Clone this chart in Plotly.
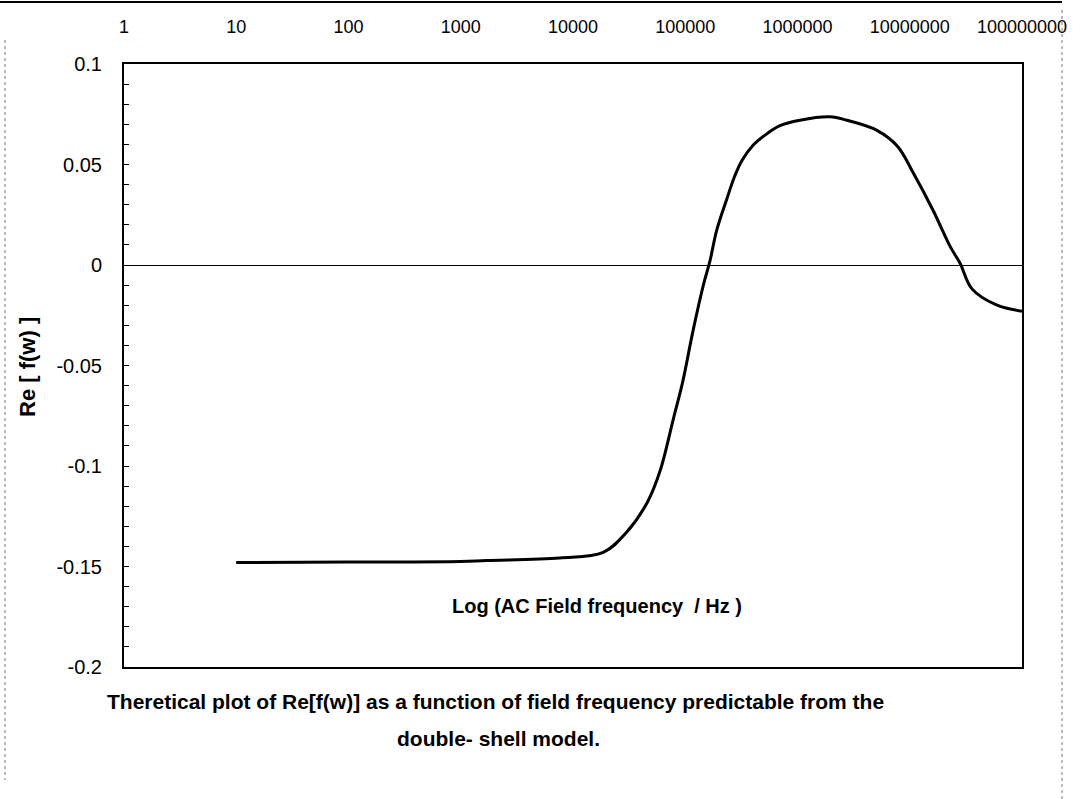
import plotly.graph_objects as go

# Data
freq_hz = [10, 100, 1000, 1.7e3, 7.6e3, 1.86e4, 3.0e4, 4.6e4, 6.0e4, 7.8e4, 9.5e4,
           1.17e5, 1.45e5, 1.66e5, 1.9e5, 2.35e5, 2.75e5, 3.2e5, 4.0e5, 5.4e5, 6.9e5, 1.05e6, 1.95e6,
           2.75e6, 5.1e6, 7.8e6, 1.07e7, 1.62e7, 2.3e7, 2.8e7, 3.6e7, 6.0e7, 1.0e8]
re_f = [-0.148, -0.1478, -0.1475, -0.147, -0.1458, -0.143, -0.133, -0.118, -0.102,
        -0.077, -0.058, -0.033, -0.010, 0.002, 0.017, 0.033, 0.044, 0.052, 0.0595, 0.0655, 0.0692, 0.072,
        0.0737, 0.072, 0.067, 0.059, 0.046, 0.027, 0.009, 0.001, -0.012, -0.020, -0.023]

x_tick_vals = [1, 10, 100, 1000, 10000, 100000, 1000000, 10000000, 100000000]
x_tick_text = ["1", "10", "100", "1000", "10000", "100000", "1000000", "10000000", "100000000"]
y_tick_vals = [0.1, 0.05, 0, -0.05, -0.1, -0.15, -0.2]
y_tick_text = ["0.1", "0.05", "0", "-0.05", "-0.1", "-0.15", "-0.2"]

x_label = "Log (AC Field frequency  / Hz )"
y_label = "Re [ f(w) ]"
caption_1 = "Theretical plot of Re[f(w)] as a function of field frequency predictable from the"
caption_2 = "double- shell model."

FONT = "Liberation Sans, Arial, sans-serif"
W, H = 1085, 799
L, R, T, B = 124, 63, 64, 132
PW = W - L - R
PH = H - T - B


def px(xp):
    return (xp - L) / PW


def py(yp):
    return 1 - (yp - T) / PH


fig = go.Figure()
fig.add_trace(go.Scatter(
    x=freq_hz, y=re_f, mode="lines",
    line=dict(color="black", width=3, shape="spline", smoothing=1.0),
    showlegend=False, hoverinfo="skip",
))

fig.update_layout(
    width=W, height=H,
    margin=dict(l=L, r=R, t=T, b=B),
    paper_bgcolor="white", plot_bgcolor="white",
    font=dict(family=FONT, size=18, color="black"),
    xaxis=dict(
        type="log", range=[0, 8], side="top",
        tickvals=x_tick_vals, ticktext=x_tick_text,
        ticks="", ticklabelstandoff=22,
        showgrid=False, zeroline=False,
        showline=True, linecolor="black", linewidth=2, mirror=True,
        tickfont=dict(size=18),
    ),
    yaxis=dict(
        range=[-0.2, 0.1],
        tickvals=y_tick_vals, ticktext=y_tick_text,
        ticks="inside", ticklen=5, tickcolor="black", tickwidth=1,
        ticklabelstandoff=16,
        minor=dict(dtick=0.01, ticks="inside", ticklen=5, tickcolor="black", tickwidth=1, showgrid=False),
        showgrid=False,
        zeroline=True, zerolinecolor="black", zerolinewidth=1,
        showline=True, linecolor="black", linewidth=2, mirror=True,
        tickfont=dict(size=20),
    ),
)

annotations = [
    dict(text="<b>" + x_label + "</b>", x=px(597), y=py(606), xref="paper", yref="paper",
         showarrow=False, xanchor="center", yanchor="middle", font=dict(size=20)),
    dict(text="<b>" + y_label + "</b>", x=px(27), y=py(367), xref="paper", yref="paper",
         showarrow=False, xanchor="center", yanchor="middle", textangle=-90, font=dict(size=22)),
    dict(text="<b>" + caption_1 + "</b>", x=px(495), y=py(701), xref="paper", yref="paper",
         showarrow=False, xanchor="center", yanchor="middle", font=dict(size=21)),
    dict(text="<b>" + caption_2 + "</b>", x=px(498), y=py(739), xref="paper", yref="paper",
         showarrow=False, xanchor="center", yanchor="middle", font=dict(size=21)),
]
fig.update_layout(annotations=annotations)

# faint scan borders of the page
shapes = [
    dict(type="line", xref="paper", yref="paper", x0=px(0), x1=px(1062), y0=py(2), y1=py(2),
         line=dict(color="black", width=2)),
    dict(type="line", xref="paper", yref="paper", x0=px(5), x1=px(5), y0=py(40), y1=py(780),
         line=dict(color="#777777", width=1, dash="dot")),
    dict(type="line", xref="paper", yref="paper", x0=px(1062), x1=px(1062), y0=py(10), y1=py(799),
         line=dict(color="#777777", width=1, dash="dot")),
]
fig.update_layout(shapes=shapes)

fig.write_html("out.html", config={"displayModeBar": False},
               post_script="document.body.style.margin='0px';")
